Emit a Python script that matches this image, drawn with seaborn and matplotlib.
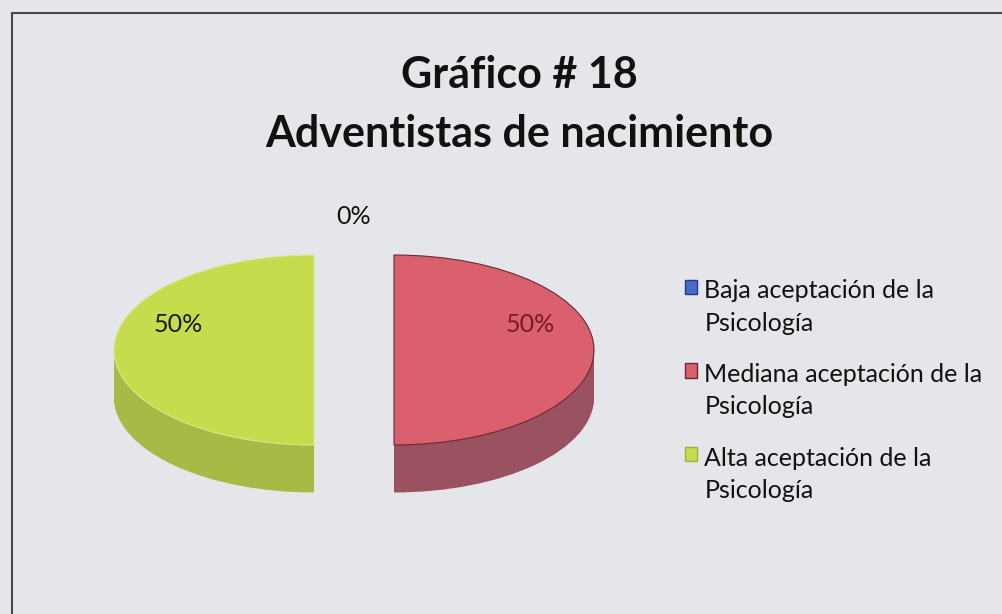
import matplotlib.pyplot as plt
from matplotlib.patches import Rectangle
import seaborn as sns

sns.set_theme(style="white")
plt.rcParams['font.family'] = ['Lato', 'DejaVu Sans']

# datos del gráfico
categorias = ["Baja aceptación de la\nPsicología",
              "Mediana aceptación de la\nPsicología",
              "Alta aceptación de la\nPsicología"]
porcentajes = [0, 50, 50]
colores = ["#4a6cc9", "#d9606c", "#c6dc4c"]
colores_lado = ["#33488a", "#9a5260", "#a6bb46"]
bordes = ["#2a3a7a", "#6a2a34", "#d8e890"]
titulo = ["Gráfico # 18", "Adventistas de nacimiento"]

fondo = "#e4e6ea"
W, H = 1003, 614
fig = plt.figure(figsize=(W / 100, H / 100), dpi=100, facecolor=fondo)

# eje: x -1.5..1.5 (200 px por unidad), y -1.0..1.6 (95 px por unidad) -> elipse
ax = fig.add_axes([54 / W, 169 / H, 600 / W, 247 / H])

explode = [0.2, 0.2, 0.2]
prof = 0.5
capas = 50
# paredes laterales (efecto 3D)
for k in range(capas, 0, -1):
    ax.pie(porcentajes, colors=colores_lado, startangle=90, counterclock=False,
           explode=explode, center=(0, -prof * k / capas),
           wedgeprops=dict(linewidth=0))

wedges, _, autotexts = ax.pie(
    porcentajes, colors=colores, startangle=90, counterclock=False,
    explode=explode, autopct='%1.0f%%', pctdistance=0.68,
    wedgeprops=dict(linewidth=0.8),
    textprops=dict(fontsize=18))
for w, b, v in zip(wedges, bordes, porcentajes):
    w.set_edgecolor(b)
    if v == 0:
        w.set_linewidth(0)

colores_txt = ["#111111", "#7a1a22", "#1a1a1a"]
for t, c in zip(autotexts, colores_txt):
    x, y = t.get_position()
    t.set_position((x, y + 0.27))
    t.set_color(c)
autotexts[0].set_position((0, 1.4))

ax.set_xlim(-1.5, 1.5)
ax.set_ylim(-1.0, 1.6)
ax.set_aspect('auto')

fig.text(0.518, 1 - 75 / H, titulo[0], ha='center', va='center',
         fontsize=31, fontweight='bold', color='#111111')
fig.text(0.518, 1 - 134 / H, titulo[1], ha='center', va='center',
         fontsize=31, fontweight='bold', color='#111111')

leg = fig.legend(wedges, categorias, loc='upper left',
                 bbox_to_anchor=(662 / W, 1 - 257 / H), frameon=False,
                 fontsize=18, handlelength=0.5, handleheight=0.5,
                 handletextpad=0.3, labelspacing=1.15)
for h, b in zip(leg.legend_handles, ["#2a3a7a", "#6a2a34", "#a0b040"]):
    h.set_edgecolor(b)
    h.set_linewidth(1.0)
for col in leg._legend_handle_box.get_children():
    for item in col.get_children():
        item.align = "top"
for t in leg.get_texts():
    t.set_linespacing(1.48)
    t.set_color('#111111')

# marco de la hoja fotografiada
fig.patches.append(Rectangle((12 / W, -0.1), 1.2, 0.1 + 1 - 13 / H, transform=fig.transFigure,
                             fill=False, edgecolor='#4a4a4a', linewidth=1.5))

fig.savefig("out.png", dpi=100, facecolor=fondo)
